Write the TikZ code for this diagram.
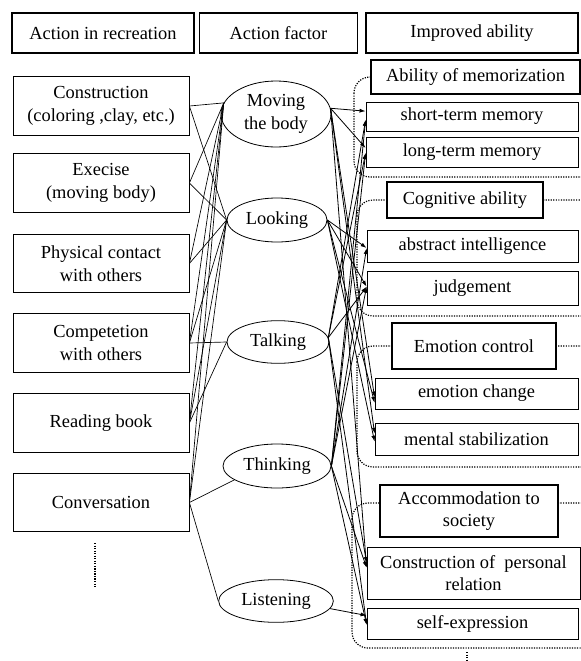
\documentclass[tikz,border=0pt]{standalone}
\usepackage{fontspec}
\setmainfont{Liberation Serif}
\usetikzlibrary{arrows.meta,shapes.geometric}

\begin{document}
\begin{tikzpicture}[
  x=0.75pt, y=-0.75pt,
  every node/.style={font=\fontsize{13.8}{17}\selectfont},
  headbox/.style={draw, line width=0.9pt, fill=white, minimum height=30pt, inner sep=1pt},
  actbox/.style={draw, line width=0.6pt, fill=white, minimum width=132pt, minimum height=44pt, align=center, inner sep=1pt},
  factor/.style={draw, ellipse, line width=0.6pt, fill=white, inner sep=0pt, align=center},
  groupbox/.style={draw, line width=1pt, fill=white, align=center, inner sep=1pt},
  abilbox/.style={draw, line width=0.6pt, fill=white, align=center, inner sep=1pt},
  group/.style={densely dotted, line width=0.9pt, rounded corners=12pt},
  link/.style={line width=0.5pt},
  effect/.style={line width=0.6pt, -{Latex[length=4.5pt,width=3pt]}}
]
\clip (0,0) rectangle (581,661);

% dotted groups of abilities
\draw[group] (354,77) rectangle (600,177);
\draw[group] (357,200) rectangle (600,316);
\draw[group] (357,346) rectangle (600,467);
\draw[group] (352,503) rectangle (600,648);
\draw[densely dotted, line width=0.9pt] (95,543) -- (95,588);
\draw[densely dotted, line width=0.9pt] (467,652) -- (467,661);

% headers
\node[headbox, minimum width=136.5pt] (hact) at (103,33) {Action in recreation};
\node[headbox, minimum width=119pt] (hfac) at (278.5,33) {Action factor};
\node[headbox, minimum width=159pt] (habl) at (472,33) {Improved ability};

% actions
\node[actbox] (cons) at (101,106) {Construction\\(coloring ,clay, etc.)};
\node[actbox] (exer) at (101,183) {Execise\\(moving body)};
\node[actbox] (phys) at (101,263.5) {Physical contact\\with others};
\node[actbox] (comp) at (101,343) {Competetion\\with others};
\node[actbox] (read) at (101,423) {Reading book};
\node[actbox] (conv) at (101,502.5) {Conversation};

% factors
\node[factor, minimum width=82.5pt, minimum height=49.5pt] (moving) at (276,114) {Moving\\the body};
\node[factor, minimum width=75pt, minimum height=33pt] (looking) at (277,220) {Looking};
\node[factor, minimum width=76.5pt, minimum height=32pt] (talking) at (278,342) {Talking};
\node[factor, minimum width=81pt, minimum height=33pt] (thinking) at (277,466) {Thinking};
\node[factor, minimum width=86pt, minimum height=32pt] (listening) at (276,601) {Listening};

% abilities
\node[groupbox, minimum width=156.75pt, minimum height=25.5pt] (memo) at (475.5,77) {Ability of memorization};
\node[abilbox, minimum width=159pt, minimum height=21.75pt] (stm) at (472,116.5) {short-term memory};
\node[abilbox, minimum width=159pt, minimum height=22.5pt] (ltm) at (472,152) {long-term memory};
\node[groupbox, minimum width=117pt, minimum height=27pt] (cogn) at (465,200) {Cognitive ability};
\node[abilbox, minimum width=158.25pt, minimum height=24pt] (absi) at (472.5,246) {abstract intelligence};
\node[abilbox, minimum width=158.25pt, minimum height=25.5pt] (judg) at (472.5,288) {judgement};
\node[groupbox, minimum width=123pt, minimum height=34.5pt] (emot) at (474,346) {Emotion control};
\node[abilbox, minimum width=152.25pt, minimum height=23.25pt] (emch) at (476.5,393.5) {emotion change};
\node[abilbox, minimum width=152.25pt, minimum height=24pt] (ments) at (476.5,439) {mental stabilization};
\node[groupbox, minimum width=133.5pt, minimum height=39pt] (accm) at (469,511) {Accommodation to\\society};
\node[abilbox, minimum width=159.75pt, minimum height=39pt] (cpr) at (473.5,573) {Construction of~ personal\\relation};
\node[abilbox, minimum width=158.25pt, minimum height=23.25pt] (selfe) at (472.5,623.5) {self-expression};

% ports
\coordinate (mvin) at (moving.168);
\coordinate (lkin) at (looking.west);
\coordinate (tkin) at (talking.west);
\coordinate (thin) at (thinking.198);
\coordinate (lsin) at (listening.west);
\coordinate (mvout) at (moving.6);
\coordinate (lkout) at (looking.east);
\coordinate (tkout) at (talking.5);
\coordinate (thout) at (thinking.east);
\coordinate (lsout) at (listening.352);

\foreach \a/\f in {cons/mvin, cons/lkin, exer/mvin, exer/lkin, phys/mvin, phys/lkin,
    comp/mvin, comp/lkin, comp/tkin, read/mvin, read/lkin, read/tkin,
    conv/mvin, conv/lkin, conv/thin, conv/lsin}
  \draw[link] (\a.east) -- (\f);

\foreach \f/\b/\s in {mvout/stm/4, mvout/ltm/3, mvout/emch/-3, mvout/ments/4, mvout/cpr/4,
    lkout/absi/-1.5, lkout/judg/1, lkout/emch/-7, lkout/ments/-2,
    tkout/stm/-2.5, tkout/ltm/-0.75, tkout/judg/1, tkout/cpr/7.5, tkout/selfe/-1,
    thout/stm/-2.5, thout/ltm/-0.75, thout/absi/-1.5, thout/judg/1, thout/cpr/4, thout/selfe/-1,
    lsout/selfe/6}
  \draw[effect] (\f) -- ([yshift=\s pt]\b.west);
\end{tikzpicture}
\end{document}
